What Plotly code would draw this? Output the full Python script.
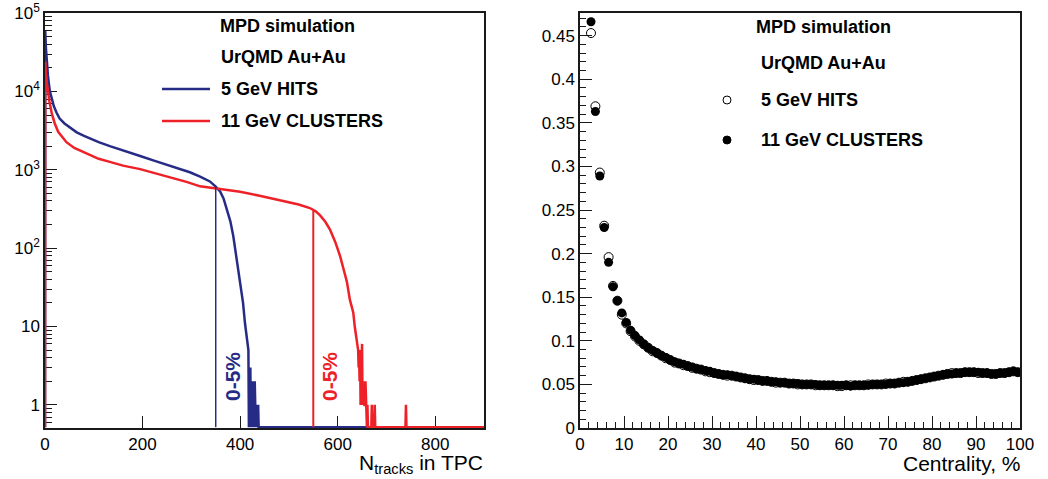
import plotly.graph_objects as go

# ---- left panel: N_tracks in TPC (counts per bin, 0 = empty bin) ----
hits_n = [0, 0.5, 2, 4, 6, 8, 10, 14, 18, 24, 30, 40, 50, 65, 80, 92, 110, 133, 160, 195,
          225, 256, 280, 297, 318, 338, 350, 359, 366, 373, 380, 386, 393, 400, 406, 410,
          414, 417, 418, 419, 420, 421, 422, 423, 424, 425, 426, 427, 428, 429, 430, 431,
          432, 433, 434, 435, 436, 437, 438, 900]
hits_counts = [0, 59000, 35000, 22000, 16000, 12500, 10000, 8100, 6500, 5300, 4500, 3900, 3500,
               3000, 2700, 2500, 2250, 2000, 1750, 1500, 1300, 1130, 1010, 930, 820, 710, 610,
               530, 430, 316, 220, 143, 72, 37, 20, 11, 7.4, 5, 0, 3, 2, 3, 0, 2, 1, 2, 0, 2, 1,
               0, 2, 1, 0, 1, 0, 1, 0, 1, 0, 0]

clus_n = [0, 0.5, 2, 4, 6, 9, 14, 20, 27, 35, 44, 60, 78, 92, 110, 133, 160, 195, 225, 256,
          290, 318, 350, 400, 440, 482, 520, 543, 555, 564, 575, 584, 595, 605, 612, 619, 625,
          632, 635, 639, 642, 643, 644, 645, 646, 647, 648, 649, 650, 651, 652, 653, 654, 655,
          656, 657, 658, 659, 660, 661, 662, 669, 670, 671, 675, 676, 677, 739, 740, 741, 900]
clus_counts = [0, 24000, 17000, 12500, 10000, 7500, 5200, 3900, 3050, 2600, 2250, 1900, 1690,
               1520, 1380, 1260, 1130, 1020, 910, 815, 700, 615, 575, 525, 465, 410, 360, 325,
               295, 262, 215, 174, 120, 79, 55, 37, 22, 15, 10, 7, 5, 3, 4, 2, 5, 1, 3, 2, 6, 1,
               2, 1, 2, 1, 1, 2, 1, 1, 0, 1, 0, 0, 1, 0, 0, 1, 0, 0, 1, 0, 0]

cut_n = [350, 550]          # 0-5% centrality boundaries
cut_counts = [605, 300]

# ---- right panel: ratio vs centrality (1% bins) ----
centrality = [2.5, 3.5, 4.5, 5.5, 6.5, 7.5, 8.5, 9.5, 10.5, 11.5,
              12.5, 13.5, 14.5, 15.5, 16.5, 17.5, 18.5, 19.5, 20.5, 21.5,
              22.5, 23.5, 24.5, 25.5, 26.5, 27.5, 28.5, 29.5, 30.5, 31.5,
              32.5, 33.5, 34.5, 35.5, 36.5, 37.5, 38.5, 39.5, 40.5, 41.5,
              42.5, 43.5, 44.5, 45.5, 46.5, 47.5, 48.5, 49.5, 50.5, 51.5,
              52.5, 53.5, 54.5, 55.5, 56.5, 57.5, 58.5, 59.5, 60.5, 61.5,
              62.5, 63.5, 64.5, 65.5, 66.5, 67.5, 68.5, 69.5, 70.5, 71.5,
              72.5, 73.5, 74.5, 75.5, 76.5, 77.5, 78.5, 79.5, 80.5, 81.5,
              82.5, 83.5, 84.5, 85.5, 86.5, 87.5, 88.5, 89.5, 90.5, 91.5,
              92.5, 93.5, 94.5, 95.5, 96.5, 97.5, 98.5, 99.5]
hits_ratio = [0.453, 0.369, 0.293, 0.232, 0.196, 0.163, 0.146, 0.130, 0.120, 0.111,
              0.105, 0.100, 0.096, 0.092, 0.088, 0.086, 0.083, 0.080, 0.078, 0.075,
              0.074, 0.072, 0.071, 0.069, 0.068, 0.067, 0.065, 0.064, 0.063, 0.062,
              0.061, 0.060, 0.060, 0.059, 0.058, 0.057, 0.056, 0.055, 0.055, 0.054,
              0.054, 0.053, 0.052, 0.052, 0.052, 0.051, 0.051, 0.050, 0.050, 0.050,
              0.050, 0.049, 0.049, 0.049, 0.049, 0.049, 0.048, 0.048, 0.049, 0.049,
              0.049, 0.049, 0.049, 0.050, 0.050, 0.050, 0.050, 0.051, 0.051, 0.051,
              0.052, 0.053, 0.053, 0.054, 0.055, 0.056, 0.057, 0.058, 0.059, 0.060,
              0.061, 0.062, 0.063, 0.063, 0.063, 0.064, 0.064, 0.064, 0.063, 0.063,
              0.063, 0.062, 0.062, 0.063, 0.063, 0.064, 0.065, 0.064]
clus_ratio = [0.466, 0.363, 0.289, 0.230, 0.190, 0.162, 0.146, 0.132, 0.121, 0.112,
              0.106, 0.101, 0.096, 0.092, 0.089, 0.086, 0.083, 0.081, 0.078, 0.076,
              0.074, 0.073, 0.071, 0.070, 0.068, 0.067, 0.066, 0.065, 0.063, 0.062,
              0.061, 0.061, 0.060, 0.059, 0.058, 0.057, 0.056, 0.056, 0.055, 0.054,
              0.054, 0.053, 0.053, 0.052, 0.052, 0.051, 0.051, 0.051, 0.050, 0.050,
              0.050, 0.050, 0.049, 0.049, 0.049, 0.049, 0.049, 0.049, 0.049, 0.048,
              0.049, 0.049, 0.049, 0.049, 0.050, 0.050, 0.050, 0.050, 0.051, 0.051,
              0.052, 0.052, 0.053, 0.054, 0.055, 0.056, 0.057, 0.058, 0.059, 0.060,
              0.061, 0.062, 0.062, 0.063, 0.063, 0.064, 0.064, 0.064, 0.064, 0.063,
              0.063, 0.062, 0.062, 0.063, 0.063, 0.064, 0.065, 0.064]

count_ticks = [1, 10, 100, 1000, 10000, 100000]

assert len(hits_n) == len(hits_counts) and len(clus_n) == len(clus_counts)
assert len(centrality) == len(hits_ratio) == len(clus_ratio)

BLUE = "#262c86"
RED = "#ee2128"
FONT = "Arial, Liberation Sans, sans-serif"
W, H = 1048, 479
T, B = 13, 51
FLOOR = 0.52  # empty bins drawn along the bottom of the log axis


def on_log(vals):
    return [v if v > 0 else FLOOR for v in vals]


def px(x):
    return x / W


def py(y):
    return (H - B - y) / (H - T - B)


fig = go.Figure()

fig.add_trace(go.Scatter(x=hits_n, y=on_log(hits_counts), mode="lines",
                         line=dict(color=BLUE, width=2.5), xaxis="x", yaxis="y"))
fig.add_trace(go.Scatter(x=clus_n, y=on_log(clus_counts), mode="lines",
                         line=dict(color=RED, width=2.5), xaxis="x", yaxis="y"))
for n, c, col, w in zip(cut_n, cut_counts, [BLUE, RED], [1.5, 2]):
    fig.add_trace(go.Scatter(x=[n, n], y=[FLOOR, c], mode="lines",
                             line=dict(color=col, width=w), xaxis="x", yaxis="y"))

fig.add_trace(go.Scatter(x=centrality, y=hits_ratio, mode="markers",
                         marker=dict(symbol="circle-open", size=9, color="black",
                                     line=dict(width=1)),
                         xaxis="x2", yaxis="y2"))
fig.add_trace(go.Scatter(x=centrality, y=clus_ratio, mode="markers",
                         marker=dict(symbol="circle", size=9, color="black"),
                         xaxis="x2", yaxis="y2"))

axis_common = dict(showgrid=False, zeroline=False, showline=True, linecolor="#1a1a1a",
                   linewidth=1.5, mirror=True, ticks="inside", tickcolor="#1a1a1a",
                   tickwidth=1, ticklen=12, tickfont=dict(family=FONT, size=17, color="black"),
                   automargin=False, layer="below traces")

fig.update_layout(
    width=W, height=H, margin=dict(l=0, r=0, t=T, b=B),
    paper_bgcolor="white", plot_bgcolor="white", showlegend=False,
    xaxis=dict(domain=[px(45), px(484)], range=[0, 900], dtick=200, anchor="y",
               **axis_common),
    yaxis=dict(type="log", range=[-0.295, 5.0005], tickmode="array", tickvals=count_ticks,
               ticktext=["1", "10", "10<sup>2</sup>", "10<sup>3</sup>", "10<sup>4</sup>",
                         "10<sup>5</sup>"],
               anchor="x",
               minor=dict(ticks="inside", ticklen=7, tickcolor="#1a1a1a", showgrid=False,
                          dtick="D1"),
               **axis_common),
    xaxis2=dict(domain=[px(580), px(1020)], range=[0, 100], dtick=10, anchor="y2",
                minor=dict(ticks="inside", ticklen=6, dtick=2, tickcolor="#1a1a1a",
                           showgrid=False),
                **axis_common),
    yaxis2=dict(range=[0, 0.476], dtick=0.05, anchor="x2",
                minor=dict(ticks="inside", ticklen=6, dtick=0.01, tickcolor="#1a1a1a",
                           showgrid=False),
                **axis_common),
)

ann = []


def label(x, y, text, size=18, bold=True, color="black", xanchor="left", angle=0):
    ann.append(dict(x=px(x), y=py(y), xref="paper", yref="paper", text=text,
                    showarrow=False, xanchor=xanchor, yanchor="middle", textangle=angle,
                    borderpad=0,
                    font=dict(family=FONT, size=size, color=color,
                              weight="bold" if bold else "normal")))


# left legend
label(219, 26, "MPD simulation")
label(220, 57, "UrQMD Au+Au")
label(220, 89, "5 GeV HITS")
label(220, 121, "11 GeV CLUSTERS")
# right legend
label(755, 27, "MPD simulation")
label(760, 63, "UrQMD Au+Au")
label(760, 100, "5 GeV HITS")
label(760, 140, "11 GeV CLUSTERS")
# cut labels
label(232, 377, "0-5%", size=21, color=BLUE, xanchor="center", angle=-90)
label(329, 377, "0-5%", size=21, color=RED, xanchor="center", angle=-90)
# axis titles
label(484, 464, "N<sub>tracks</sub> in TPC", size=21, bold=False, xanchor="right")
label(1021, 463, "Centrality, %", size=21, bold=False, xanchor="right")
fig.update_layout(annotations=ann)

shapes = [
    dict(type="line", xref="paper", yref="paper", x0=px(162), x1=px(210), y0=py(89), y1=py(89),
         line=dict(color=BLUE, width=2.5)),
    dict(type="line", xref="paper", yref="paper", x0=px(162), x1=px(210), y0=py(121),
         y1=py(121), line=dict(color=RED, width=2.5)),
    dict(type="circle", xref="paper", yref="paper", x0=px(723), x1=px(731), y0=py(96),
         y1=py(104), line=dict(color="black", width=1)),
    dict(type="circle", xref="paper", yref="paper", x0=px(723), x1=px(731), y0=py(136),
         y1=py(144), line=dict(color="black", width=1), fillcolor="black"),
]
fig.update_layout(shapes=shapes)

fig.write_html("out.html", config={"displayModeBar": False},
               post_script="document.body.style.margin='0';")
